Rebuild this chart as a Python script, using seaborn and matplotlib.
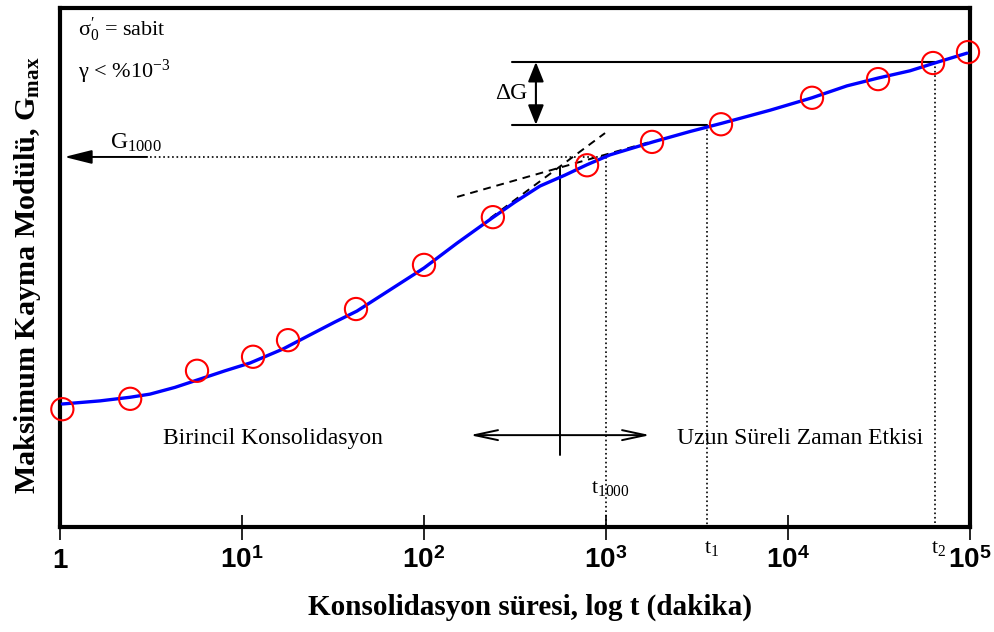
import numpy as np
import pandas as pd
import matplotlib
matplotlib.use("Agg")
import matplotlib.pyplot as plt
import seaborn as sns

# ---- data ----
point_t = [1.03, 2.43, 5.66, 11.5, 17.9, 42.3, 100, 239, 787, 1790, 4285, 13550, 31250, 62660, 97500]
point_g = [22.7, 24.7, 30.1, 32.8, 36.0, 42.0, 50.5, 59.7, 69.7, 74.2, 77.6, 82.7, 86.3, 89.4, 91.5]

curve_t = [1.03, 1.66, 2.43, 3.12, 4.28, 5.88, 8.07, 11.07, 16.8, 23.6, 32.4, 42.8, 65.1, 100,
           152, 236, 316, 434, 595, 786, 1052, 1813, 2894, 4340, 7962, 13550, 21100, 31230,
           46800, 62620, 96270]
curve_g = [23.7, 24.3, 25.0, 25.6, 26.9, 28.5, 30.1, 31.6, 34.3, 37.0, 39.5, 41.6, 45.7, 49.9,
           54.7, 59.5, 62.6, 65.7, 67.8, 69.8, 71.7, 74.2, 76.2, 77.8, 80.3, 82.7, 85.0, 86.5,
           87.9, 89.3, 91.3]

tick_vals = [1, 10, 100, 1000, 10000, 100000]
tick_labels = ["1", "10$^{\\mathsf{1}}$", "10$^{\\mathsf{2}}$", "10$^{\\mathsf{3}}$",
               "10$^{\\mathsf{4}}$", "10$^{\\mathsf{5}}$"]

# construction lines (Casagrande-type tangents)
tan1_t = [152, 1746]; tan1_g = [63.6, 74.2]
tan2_t = [231, 988];  tan2_g = [59.5, 75.9]
t_int, g_int = 559, 69.4
t1000, g1000 = 1000, 71.3
t1, g_t1 = 3590, 77.5
t2, g_t2 = 64260, 89.6

sns.set_theme(style="white")
plt.rcParams["mathtext.fontset"] = "custom"
plt.rcParams["mathtext.rm"] = "Liberation Serif"
plt.rcParams["mathtext.it"] = "Liberation Serif:italic"
plt.rcParams["mathtext.bf"] = "Liberation Serif:bold"
plt.rcParams["mathtext.sf"] = "Liberation Sans:bold"
plt.rcParams["font.family"] = ["Liberation Serif", "DejaVu Sans"]
plt.rcParams["text.color"] = "black"
plt.rcParams["axes.labelcolor"] = "black"
plt.rcParams["xtick.color"] = "black"
plt.rcParams["xtick.labelcolor"] = "black"

fig = plt.figure(figsize=(9.95, 6.32), dpi=100)
ax = fig.add_axes([60/995, 1-527/632, 910/995, 519/632])

df_c = pd.DataFrame({"t": curve_t, "g": curve_g})
df_p = pd.DataFrame({"t": point_t, "g": point_g})
sns.lineplot(data=df_c, x="t", y="g", ax=ax, color="#0000ff", lw=2.4, sort=False, zorder=3,
             solid_capstyle="round", solid_joinstyle="round")
sns.scatterplot(data=df_p, x="t", y="g", ax=ax, marker="o", s=256, facecolor="none",
                edgecolor="#ff0000", linewidth=1.5, zorder=4, clip_on=False)

ax.set_xscale("log")
ax.set_xlim(1, 1e5)
ax.set_ylim(0, 100)
ax.set_yticks([])
ax.set_xticks(tick_vals)
ax.set_xticklabels(tick_labels, fontfamily="Liberation Sans", fontweight="bold", fontsize=20)
ax.xaxis.set_minor_locator(matplotlib.ticker.NullLocator())
ax.tick_params(axis="x", which="major", direction="inout", length=18, width=1.2,
               color="black", pad=6, bottom=True)
for s in ax.spines.values():
    s.set_linewidth(3)
    s.set_color("black")

ax.set_xlabel("Konsolidasyon süresi, log t (dakika)", fontsize=21, fontweight="bold", labelpad=14)
ax.set_ylabel("Maksimum Kayma Modülü, G$_{\\mathbf{max}}$", fontsize=21.7, fontweight="bold", labelpad=12)
ax.xaxis.label.set_x(0.5 + 15/910)
ax.yaxis.label.set_y(0.5 - 8/519)

# tangents
ax.plot(tan1_t, tan1_g, ls=(0, (4, 3)), color="black", lw=1.4, zorder=2)
ax.plot(tan2_t, tan2_g, ls=(0, (4, 3)), color="black", lw=1.4, zorder=2)
# vertical from intersection
ax.plot([t_int, t_int], [g_int, 13.9], color="black", lw=1.4)
# G1000 dotted line and arrow
ax.plot([3.12, t1000], [g1000, g1000], ls=":", color="black", lw=1.2)
ax.annotate("", xy=(1.02, g1000), xytext=(3.12, g1000),
            arrowprops=dict(arrowstyle="-|>,head_length=1.4,head_width=0.35", color="black", lw=1.4))
ax.text(1.88, g1000 + 0.6, "G$_{1000}$", fontsize=17, ha="left", va="bottom")
# t lines
ax.plot([t1000, t1000], [g1000, 0], ls=":", color="black", lw=1.2)
ax.plot([t1, t1], [g_t1, 0], ls=":", color="black", lw=1.2)
ax.plot([t2, t2], [g_t2, 0], ls=":", color="black", lw=1.2)
ax.text(1060, 7.5, "t$_{1000}$", fontsize=16, ha="center", va="center")
ax.text(3800, -4.2, "t$_{1}$", fontsize=16, ha="center", va="center", clip_on=False)
ax.text(67500, -4.2, "t$_{2}$", fontsize=16, ha="center", va="center", clip_on=False)
# delta G
ax.plot([305, t2], [g_t2, g_t2], color="black", lw=1.5)
ax.plot([305, t1], [g_t1, g_t1], color="black", lw=1.5)
ax.annotate("", xy=(412, g_t2), xytext=(412, g_t1),
            arrowprops=dict(arrowstyle="<|-|>,head_length=1.0,head_width=0.4", color="black", lw=1.5,
                            shrinkA=0, shrinkB=0))
ax.text(300, 83.6, "ΔG", fontsize=17, ha="center", va="center")
# horizontal double arrow
ax.annotate("", xy=(179, 17.7), xytext=(1746, 17.7),
            arrowprops=dict(arrowstyle="<->,head_length=1.4,head_width=0.3", color="black", lw=1.4,
                            shrinkA=0, shrinkB=0))
ax.text(14.8, 17.1, "Birincil Konsolidasyon", fontsize=17, ha="center", va="center")
ax.text(11640, 17.1, "Uzun Süreli Zaman Etkisi", fontsize=17, ha="center", va="center")
# top-left notes
ax.text(1.26, 95.8, "σ$_0^{\\prime}$ = sabit", fontsize=16, ha="left", va="center")
ax.text(1.26, 87.7, "γ < %10$^{-3}$", fontsize=16, ha="left", va="center")

fig.savefig("out.png", dpi=100)
